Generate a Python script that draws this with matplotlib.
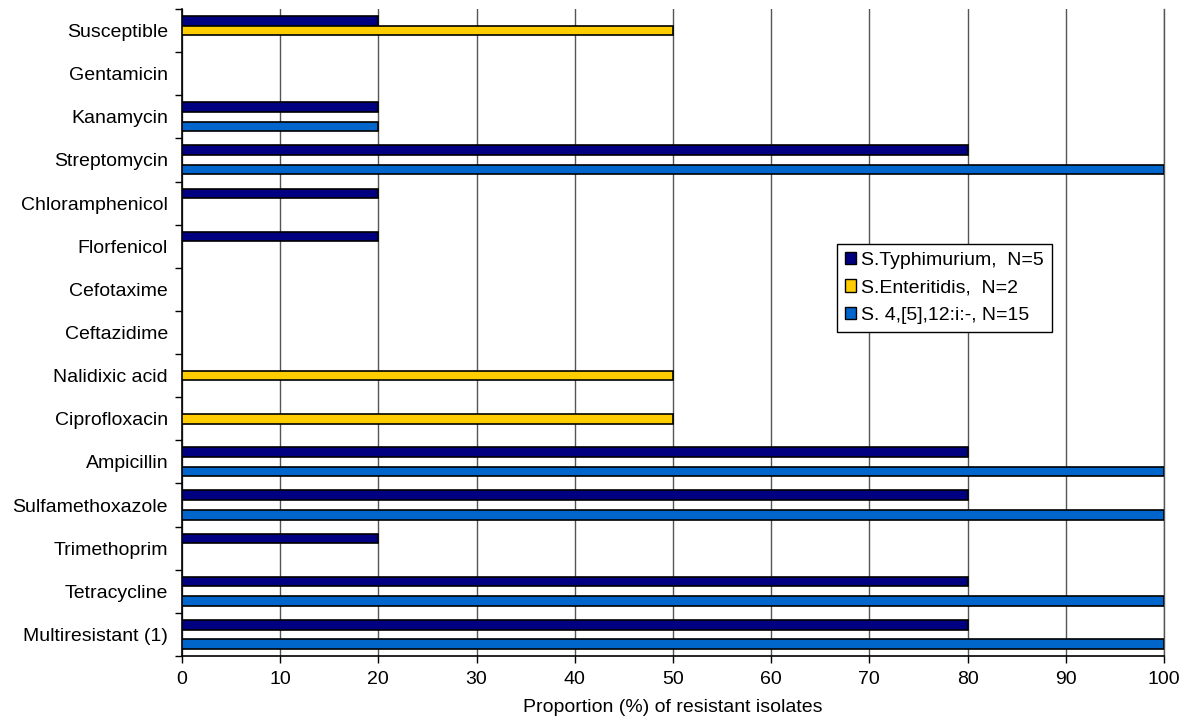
import matplotlib.pyplot as plt
import numpy as np

plt.rcParams['font.family'] = ['Liberation Sans', 'DejaVu Sans']

drugs = ['Susceptible', 'Gentamicin', 'Kanamycin', 'Streptomycin', 'Chloramphenicol',
         'Florfenicol', 'Cefotaxime', 'Ceftazidime', 'Nalidixic acid', 'Ciprofloxacin',
         'Ampicillin', 'Sulfamethoxazole', 'Trimethoprim', 'Tetracycline', 'Multiresistant (1)']

typhimurium = [20, 0, 20, 80, 20, 20, 0, 0, 0, 0, 80, 80, 20, 80, 80]
enteritidis = [50, 0, 0, 0, 0, 0, 0, 0, 50, 50, 0, 0, 0, 0, 0]
monophasic = [0, 0, 20, 100, 0, 0, 0, 0, 0, 0, 100, 100, 0, 100, 100]

series = [
    ('S.Typhimurium,  N=5', typhimurium, '#000080'),
    ('S.Enteritidis,  N=2', enteritidis, '#FFCC00'),
    ('S. 4,[5],12:i:-, N=15', monophasic, '#0066CC'),
]

fig = plt.figure(figsize=(11.87, 7.23), dpi=100)
ax = fig.add_axes([0.1533, 0.0927, 0.8273, 0.8949])

y = np.arange(len(drugs))
h = 0.225
for k, (name, vals, col) in enumerate(series):
    vals = np.array(vals, dtype=float)
    lw = np.where(vals > 0, 1.2, 0)
    ax.barh(y + (k - 1) * h, vals, height=h, color=col, edgecolor='black',
            linewidth=lw, label=name, zorder=3)

ax.set_ylim(len(drugs) - 0.5, -0.5)
ax.set_xlim(0, 100)
ax.set_xticks(np.arange(0, 101, 10))
ax.set_yticks(y)
ax.set_yticklabels(drugs)
ax.set_yticks(np.arange(-0.5, len(drugs), 1), minor=True)
ax.tick_params(axis='y', which='major', length=0, pad=10, labelsize=14)
ax.tick_params(axis='y', which='minor', length=5, width=1)
ax.tick_params(axis='x', length=5, width=1, pad=6, labelsize=14)
ax.grid(axis='x', color='#555555', linewidth=1, zorder=0)
ax.spines['top'].set_visible(False)
ax.spines['right'].set_color('#555555')
ax.spines['right'].set_linewidth(1)
ax.spines['left'].set_linewidth(1.2)
ax.spines['bottom'].set_linewidth(1.2)
ax.set_xlabel('Proportion (%) of resistant isolates', fontsize=14, labelpad=8)

leg = ax.legend(loc='upper left', bbox_to_anchor=(0.667, 0.637), fontsize=14,
                frameon=True, fancybox=False, edgecolor='black', framealpha=1,
                handlelength=0.6, handleheight=0.6, handletextpad=0.25,
                borderpad=0.4, labelspacing=0.55, borderaxespad=0)
leg.get_frame().set_linewidth(1)
for p in leg.get_patches():
    p.set_linewidth(1)

fig.savefig('out.png', dpi=100)
